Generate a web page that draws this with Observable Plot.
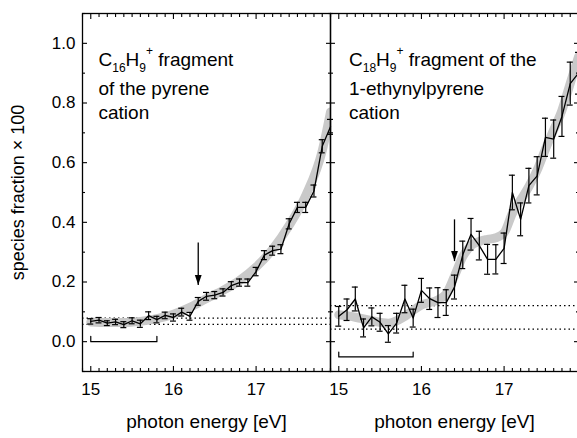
<!DOCTYPE html>
<html><head><meta charset="utf-8">
<script src="https://cdn.jsdelivr.net/npm/d3@7"></script>
<script src="https://cdn.jsdelivr.net/npm/@observablehq/plot@0.6"></script>
<style>body{margin:0;background:#fff}</style>
</head><body><div id="chart"></div>
<script>
// ---- data ----
const panels = ["pyrene", "ethynylpyrene"];
const energy = [15.0,15.1,15.2,15.3,15.4,15.5,15.6,15.7,15.8,15.9,16.0,16.1,16.2,16.3,16.4,16.5,16.6,16.7,16.8,16.9,17.0,17.1,17.2,17.3,17.4,17.5,17.6,17.7,17.8,17.9];
const pyreneFrac = [0.068,0.072,0.062,0.066,0.057,0.070,0.060,0.087,0.074,0.088,0.081,0.099,0.085,0.135,0.152,0.156,0.165,0.188,0.198,0.198,0.235,0.290,0.305,0.310,0.395,0.450,0.450,0.505,0.655,0.720];
const pyreneErr = [0.009,0.009,0.008,0.009,0.010,0.010,0.012,0.013,0.011,0.011,0.012,0.013,0.013,0.013,0.013,0.012,0.012,0.013,0.012,0.012,0.014,0.015,0.015,0.015,0.017,0.017,0.017,0.020,0.022,0.025];
const ethynylFrac = [0.085,0.107,0.143,0.046,0.083,0.065,0.026,0.062,0.143,0.079,0.172,0.144,0.131,0.131,0.183,0.291,0.360,0.322,0.276,0.276,0.313,0.500,0.410,0.523,0.556,0.685,0.679,0.755,0.865,0.900];
const ethynylErr = [0.033,0.036,0.040,0.030,0.030,0.030,0.028,0.033,0.046,0.030,0.040,0.036,0.050,0.043,0.040,0.046,0.053,0.048,0.050,0.049,0.051,0.058,0.055,0.058,0.064,0.064,0.064,0.067,0.072,0.070];
const pyreneFitE = [15.0,15.2,15.4,15.6,15.8,16.0,16.2,16.4,16.6,16.8,17.0,17.2,17.4,17.6,17.8,17.9];
const pyreneFit  = [0.066,0.064,0.064,0.068,0.077,0.092,0.115,0.145,0.172,0.205,0.250,0.310,0.390,0.490,0.640,0.770];
const ethynylFitE = [15.0,15.2,15.4,15.6,15.8,15.9,16.0,16.2,16.3,16.4,16.5,16.6,16.7,16.8,16.9,17.0,17.1,17.2,17.3,17.4,17.5,17.6,17.7,17.8,17.9];
const ethynylFit  = [0.090,0.082,0.070,0.062,0.085,0.105,0.123,0.140,0.160,0.220,0.285,0.322,0.336,0.343,0.348,0.365,0.430,0.475,0.520,0.575,0.645,0.710,0.776,0.866,0.955];
const thresholdLevels = [[0.058, 0.079], [0.042, 0.121]];
const bracketRange = [[15.0, 15.8], [15.0, 15.9]];
const bracketBase = [0.0, -0.051];
const bracketEnd = [0.018, -0.035];
const arrowEnergy = [16.3, 16.4];
const arrowFrom = [0.332, 0.41];
const arrowTo = [0.19, 0.27];
const labelLines = [["C16H9+ fragment", "of the pyrene", "cation"], ["C18H9+ fragment of the", "1-ethynylpyrene", "cation"]];
const xMajor = [15, 16, 17];
const xMinor = [14.9,15.1,15.2,15.3,15.4,15.5,15.6,15.7,15.8,15.9,16.1,16.2,16.3,16.4,16.5,16.6,16.7,16.8,16.9,17.1,17.2,17.3,17.4,17.5,17.6,17.7,17.8,17.9];
const yMajor = [0, 0.2, 0.4, 0.6, 0.8, 1.0];
const yMinor = [-0.1, 0.1, 0.3, 0.5, 0.7, 0.9, 1.1];
const xLabel = "photon energy [eV]";
const yLabel = "species fraction × 100";

// ---- tables ----
const fracs = [pyreneFrac, ethynylFrac], errs = [pyreneErr, ethynylErr];
const fitsE = [pyreneFitE, ethynylFitE], fits = [pyreneFit, ethynylFit];
const points = panels.flatMap((p, k) => energy.map((e, i) => ({panel: p, e, v: fracs[k][i], lo: fracs[k][i] - errs[k][i], hi: fracs[k][i] + errs[k][i]})));
const fit = panels.flatMap((p, k) => fitsE[k].map((e, i) => ({panel: p, e, v: fits[k][i]})));
const levels = panels.flatMap((p, k) => thresholdLevels[k].map(v => ({panel: p, v})));
const brackets = panels.flatMap((p, k) => [
  {panel: p, e: bracketRange[k][0], v: bracketEnd[k]},
  {panel: p, e: bracketRange[k][0], v: bracketBase[k]},
  {panel: p, e: bracketRange[k][1], v: bracketBase[k]},
  {panel: p, e: bracketRange[k][1], v: bracketEnd[k]}]);
const arrows = panels.map((p, k) => ({panel: p, e: arrowEnergy[k], from: arrowFrom[k], to: arrowTo[k]}));

const cap = 0.036;
const font = "'Liberation Sans', Arial, Helvetica, sans-serif";
const head = {draw(ctx) { ctx.moveTo(0, 0); ctx.lineTo(-3.4, -10); ctx.lineTo(3.4, -10); ctx.closePath(); }};
const lineDy = [38.5, 67.5, 91.5];
const labelDx = [16, 18.5];

const annot = [];
panels.forEach((p, k) => labelLines[k].forEach((t, j) => {
  annot.push(Plot.text([{panel: p, t}], {fx: "panel", text: "t", frameAnchor: "top-left", lineAnchor: "top", textAnchor: "start", dx: labelDx[k], dy: lineDy[j], fontSize: 19, fill: "black"}));
}));

const tickOpts = {label: null, fill: "none", facetAnchor: null, stroke: "black", strokeWidth: 1.1};

const chart = Plot.plot({
  width: 577, height: 438,
  marginLeft: 82, marginRight: -1, marginTop: 13, marginBottom: 67,
  style: {fontFamily: font, fontSize: "17px", color: "black", background: "white"},
  fx: {domain: panels, axis: null, padding: 0},
  x: {domain: [14.9, 17.9]},
  y: {domain: [-0.1, 1.1]},
  marks: [
    Plot.ruleY(levels, {fx: "panel", y: "v", stroke: "black", strokeWidth: 1.3, strokeDasharray: "1.5,3"}),
    Plot.line(fit, {fx: "panel", x: "e", y: "v", stroke: "#c9c9c9", strokeWidth: 9, curve: "monotone-x", clip: true}),
    Plot.ruleX(points, {fx: "panel", x: "e", y1: "lo", y2: "hi", stroke: "black", strokeWidth: 1.2}),
    Plot.ruleY(points, {fx: "panel", y: "lo", x1: d => d.e - cap, x2: d => d.e + cap, stroke: "black", strokeWidth: 1.2}),
    Plot.ruleY(points, {fx: "panel", y: "hi", x1: d => d.e - cap, x2: d => d.e + cap, stroke: "black", strokeWidth: 1.2}),
    Plot.line(points, {fx: "panel", x: "e", y: "v", stroke: "black", strokeWidth: 1.3}),
    Plot.line(brackets, {fx: "panel", x: "e", y: "v", z: "panel", stroke: "black", strokeWidth: 1.2}),
    Plot.link(arrows, {fx: "panel", x1: "e", x2: "e", y1: "from", y2: "to", stroke: "black", strokeWidth: 1.3}),
    Plot.dot(arrows, {fx: "panel", x: "e", y: "to", symbol: head, fill: "black", stroke: "none", r: 5}),
    Plot.frame({stroke: "black", strokeWidth: 1.3}),
    Plot.axisY(yMajor, {...tickOpts, anchor: "left", tickSize: -5}),
    Plot.axisY(yMinor, {...tickOpts, anchor: "left", tickSize: -3}),
    Plot.axisY(yMajor, {...tickOpts, anchor: "right", tickSize: -5}),
    Plot.axisY(yMinor, {...tickOpts, anchor: "right", tickSize: -3}),
    Plot.axisX(xMajor, {...tickOpts, anchor: "bottom", tickSize: -5}),
    Plot.axisX(xMinor, {...tickOpts, anchor: "bottom", tickSize: -3}),
    Plot.axisX(xMajor, {...tickOpts, anchor: "top", tickSize: -5}),
    Plot.axisX(xMinor, {...tickOpts, anchor: "top", tickSize: -3}),
    Plot.axisY(yMajor, {anchor: "left", tickSize: 0, tickPadding: 7, tickFormat: d => d.toFixed(1), label: null, fontSize: 17}),
    Plot.axisX(xMajor, {anchor: "bottom", tickSize: 0, tickPadding: 11, tickFormat: d => String(d), label: null, fontSize: 17}),
    Plot.text(panels, {fx: d => d, text: () => xLabel, frameAnchor: "bottom", lineAnchor: "middle", dy: 50, fontSize: 19, fill: "black"}),
    Plot.text([panels[0]], {fx: d => d, text: () => yLabel, frameAnchor: "left", textAnchor: "middle", rotate: -90, dx: -64, fontSize: 18, fill: "black"}),
    ...annot
  ]
});
document.getElementById("chart").appendChild(chart);

// chemical formula sub/superscripts
const ns = "http://www.w3.org/2000/svg";
chart.querySelectorAll("text").forEach(el => {
  const m = el.textContent.match(/^C(\d+)H(\d+)\+(.*)$/);
  if (!m) return;
  el.textContent = "";
  const add = (t, attrs = {}) => {
    const ts = document.createElementNS(ns, "tspan");
    ts.textContent = t;
    for (const k in attrs) ts.setAttribute(k, attrs[k]);
    el.appendChild(ts);
  };
  add("C");
  add(m[1], {dy: 6.5, "font-size": 12});
  add("H", {dy: -6.5});
  add(m[2], {dy: 6.5, "font-size": 12});
  add("+", {dy: -17, "font-size": 12});
  add(m[3], {dy: 10.5});
});
</script>
</body></html>
